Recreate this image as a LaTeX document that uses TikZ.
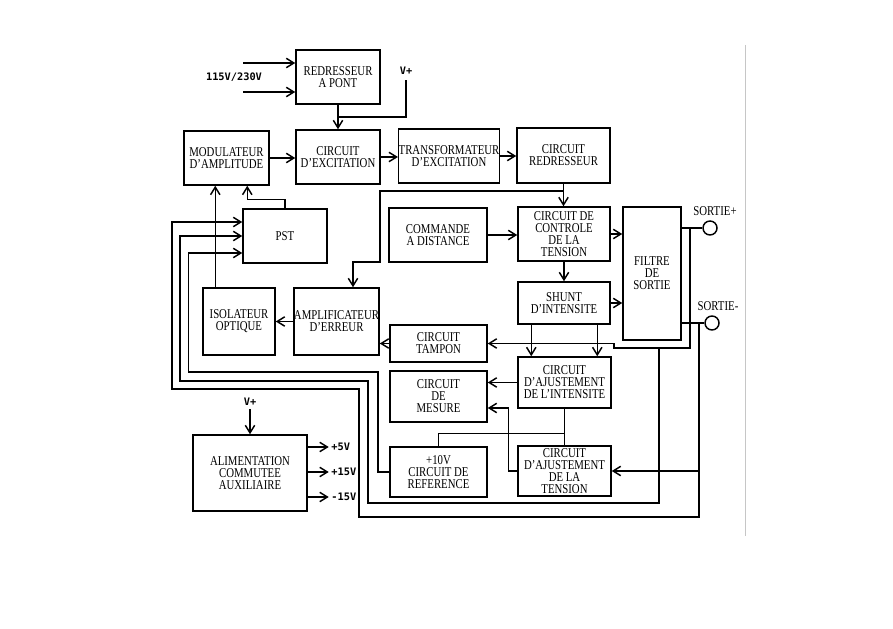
\documentclass[tikz,border=0pt]{standalone}
\usepackage{fontspec}
\setmainfont{Liberation Serif}[FakeStretch=0.8]
\newfontfamily\sigfont{DejaVu Sans Mono}
\usetikzlibrary{arrows.meta,calc}

\begin{document}
\begin{tikzpicture}[x=0.03cm,y=-0.03cm,line width=1.25pt,font=\fontsize{11.5}{10.2}\selectfont,
  blk/.style={draw,align=center,inner sep=0pt},
  sig/.style={font=\sigfont\bfseries\fontsize{8.8}{9}\selectfont,inner sep=0pt},
  >={Straight Barb[length=6.5pt,width=8pt]}]
\useasboundingbox (0,0) rectangle (893,629);
\draw[gray!45,line width=0.6pt] (745,45)--(745,536);
\foreach \n/\x/\y/\w/\h/\t in {
  redr/338/77/84/54/{REDRESSEUR\\A PONT},
  exc/338/157/84/54/{CIRCUIT\\D'EXCITATION},
  modul/226.5/158/85/54/{MODULATEUR\\D'AMPLITUDE},
  transf/449/156/84/54/{TRANSFORMATEUR\\D'EXCITATION},
  credr/563.5/155.5/93/55/{CIRCUIT\\REDRESSEUR},
  pst/285/236/84/54/{PST},
  cmd/438/235/98/54/{COMMANDE\\A DISTANCE},
  ctrl/564/234/92/54/{CIRCUIT DE\\CONTROLE\\DE LA\\TENSION},
  filtre/652/273.5/58/133/{FILTRE\\DE\\SORTIE},
  shunt/564/303/92/42/{SHUNT\\D'INTENSITE},
  isol/239/321.5/72/67/{ISOLATEUR\\OPTIQUE},
  ampli/336.5/321.5/71/67/{AMPLIFICATEUR\\D'ERREUR},
  tampon/438.5/343.5/97/37/{CIRCUIT\\TAMPON},
  mesure/438.5/396.5/97/51/{CIRCUIT\\DE\\MESURE},
  ajint/564.5/382.5/93/51/{CIRCUIT\\D'AJUSTEMENT\\DE L'INTENSITE},
  ref/438.5/472/97/50/{+10V\\CIRCUIT DE\\REFERENCE},
  ajten/564.5/471/93/50/{CIRCUIT\\D'AJUSTEMENT\\DE LA\\TENSION},
  alim/250/473/114/76/{ALIMENTATION\\COMMUTEE\\AUXILIAIRE}}{
  \node[blk,minimum width=\w*0.03cm,minimum height=\h*0.03cm] (\n) at (\x,\y) {\t};
}
\node[circle,draw,minimum size=14*0.03cm,inner sep=0pt] (sp) at (710,228) {};
\node[circle,draw,minimum size=14*0.03cm,inner sep=0pt] (sm) at (712,323) {};
\node (lsp) at (715,211) {SORTIE+};
\node (lsm) at (718,306) {SORTIE-};
\node[sig] (ac) at (234,77) {115V/230V};
\node[sig] (vp1) at (406,71) {V+};
\node[sig] (vp2) at (250,402) {V+};
\coordinate (in1) at (243,63);
\coordinate (in2) at (243,92);
\coordinate (rp) at (690,228);
\coordinate (rm) at (699,323);
\coordinate (b2) at (353,262);
\draw[->] (in1) -- (in1 -| redr.west);
\draw[->] (in2) -- (in2 -| redr.west);
\draw[->] (redr.south) -- (exc.north);
\draw ($(vp1.south)+(0,5)$) |- ($(redr.south)!.5!(exc.north)$);
\draw[->] (modul.east) -- (modul.east -| exc.west);
\draw[->] (exc.east) -- (exc.east -| transf.west);
\draw[->] (transf.east) -- (transf.east -| credr.west);
\draw[->] (credr.south) -- (credr.south |- ctrl.north);
\draw[->] ($(credr.south)!.33!(ctrl.north)$) -| (380,262) -- (b2) -- (b2 |- ampli.north);
\draw[->] (cmd.east) -- (cmd.east -| ctrl.west);
\draw[->] (ctrl.east) -- (ctrl.east -| filtre.west);
\draw[->] (ctrl.south) -- (shunt.north);
\draw[->] (shunt.east) -- (shunt.east -| filtre.west);
\foreach \d in {14,80}
  \draw[->] ($(shunt.south west)+(\d,0)$) -- ($(ajint.north west)+(\d,0)$);
\draw[->] (ajint.west) -- (ajint.west -| mesure.east);
\draw[->] (ajten.west) -- ++(-9,0) |- ($(mesure.east)+(0,11.5)$);
\draw (ajint.south) -- (ajten.north);
\draw ($(ajint.south)!.68!(ajten.north)$) -| (ref.north);
\draw (filtre.east |- sp) -- (sp.west);
\draw (filtre.east |- sm) -- (sm.west);
\draw[->] (rp) |- (614,348) |- (tampon.east);
\draw[->] (659,348) |- (368,503) |- (180,381) |- (pst.west);
\draw[->] (rm) |- (359,517) |- (172,389) |- ($(pst.west)+(0,-14)$);
\draw[->] (rm |- ajten.east) -- (ajten.east);
\draw[->] (ref.west) -| (378,372) -| ($(pst.west)+(-54,17)$) -- ($(pst.west)+(0,17)$);
\draw[->] (tampon.west) -- (tampon.west -| ampli.east);
\draw[->] (ampli.west) -- (isol.east);
\draw[->] ($(isol.north west)+(13,0)$) -- ($(modul.south west)+(32,0)$);
\draw[->] (pst.north) -- ++(0,-9) -| ($(modul.south west)+(64,0)$);
\draw[->] ($(vp2.south)+(0,3)$) -- (alim.north);
\foreach \n/\dy/\t in {a/-26/{+5V},b/-1/{+15V},c/24/{-15V}}{
  \node[sig,anchor=west] (out\n) at ($(alim.east)+(23,\dy)$) {\t};
  \draw[->] (alim.east |- out\n.west) -- ($(out\n.west)+(-2,0)$);
}
\end{tikzpicture}
\end{document}
